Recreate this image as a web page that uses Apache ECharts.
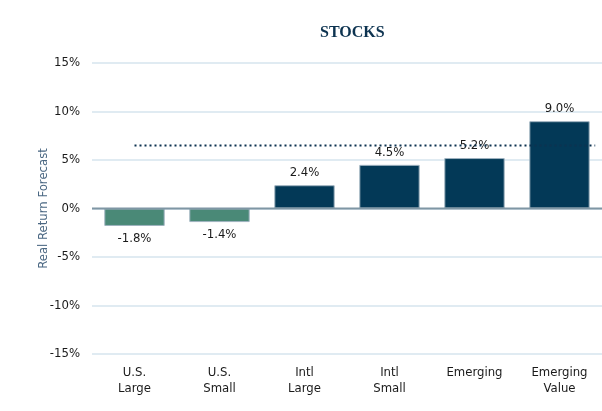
<!DOCTYPE html>
<html>
<head>
<meta charset="utf-8">
<script src="https://cdn.jsdelivr.net/npm/echarts@6/dist/echarts.min.js"></script>
<style>html,body{margin:0;padding:0;background:#fff}#c{width:602px;height:411px}</style>
</head>
<body>
<div id="c"></div>
<script>
var categories = ['U.S.\nLarge', 'U.S.\nSmall', 'Intl\nLarge', 'Intl\nSmall', 'Emerging', 'Emerging\nValue'];
var values = [-1.8, -1.4, 2.4, 4.5, 5.2, 9.0];
var isUS = [true, true, false, false, false, false];
var referenceLine = [[0, 6.5], [5.42, 6.5]];
var yTicks = [-15, -10, -5, 0, 5, 10, 15];

var FONT = '"Liberation Sans Narrow", "DejaVu Sans Condensed", "Roboto", sans-serif';
var chart = echarts.init(document.getElementById('c'));
chart.setOption({
  animation: false,
  title: {
    text: 'STOCKS', left: 315, top: 20,
    textStyle: { fontFamily: '"Liberation Serif", "DejaVu Serif", serif', fontWeight: 'bold', fontSize: 16, color: '#0d3350' }
  },
  grid: [
    { left: 92, top: 63, width: 514, height: 291 }
  ],
  xAxis: [
    { type: 'category', data: categories, gridIndex: 0,
      axisTick: { show: false }, axisLine: { show: false },
      axisLabel: { fontFamily: FONT, fontSize: 13, color: '#1a1a1a', lineHeight: 16, margin: 11, interval: 0 } },
    { type: 'value', gridIndex: 0, min: -0.5, max: 5.5, show: false }
  ],
  yAxis: [
    { type: 'value', min: -15, max: 15, interval: 5,
      name: 'Real Return Forecast', nameLocation: 'middle', nameGap: 42, nameMoveOverlap: false,
      nameTextStyle: { fontFamily: FONT, fontSize: 13, color: '#4a6782' },
      axisLine: { show: false }, axisTick: { show: false },
      axisLabel: { fontFamily: FONT, fontSize: 13, color: '#1a1a1a', margin: 12,
        formatter: function (v) { return yTicks.indexOf(v) >= 0 ? v + '%' : ''; } },
      splitLine: { lineStyle: { color: '#d6e4ee', width: 1.5 } } }
  ],
  series: [
    { type: 'bar', xAxisIndex: 0, yAxisIndex: 0, barCategoryGap: '29%',
      data: values.map(function (v, i) {
        return { value: v, itemStyle: { color: isUS[i] ? '#4a8977' : '#033957' },
          label: { position: v < 0 ? 'bottom' : 'top' } };
      }),
      itemStyle: { borderColor: '#9fb3c0', borderWidth: 1 },
      label: { show: true, distance: 6, fontFamily: FONT, fontSize: 13, color: '#1a1a1a',
        formatter: function (p) { return p.value.toFixed(1) + '%'; } },
      z: 2
    },
    { type: 'line', xAxisIndex: 1, yAxisIndex: 0, data: referenceLine, symbol: 'none',
      lineStyle: { color: '#0d3350', width: 2, type: [2, 3] }, z: 3, silent: true },
    { type: 'line', xAxisIndex: 1, yAxisIndex: 0, data: [[-0.5, 0], [5.5, 0]], symbol: 'none',
      lineStyle: { color: '#7f96a4', width: 2 }, z: 4, silent: true }
  ]
});
</script>
</body>
</html>
